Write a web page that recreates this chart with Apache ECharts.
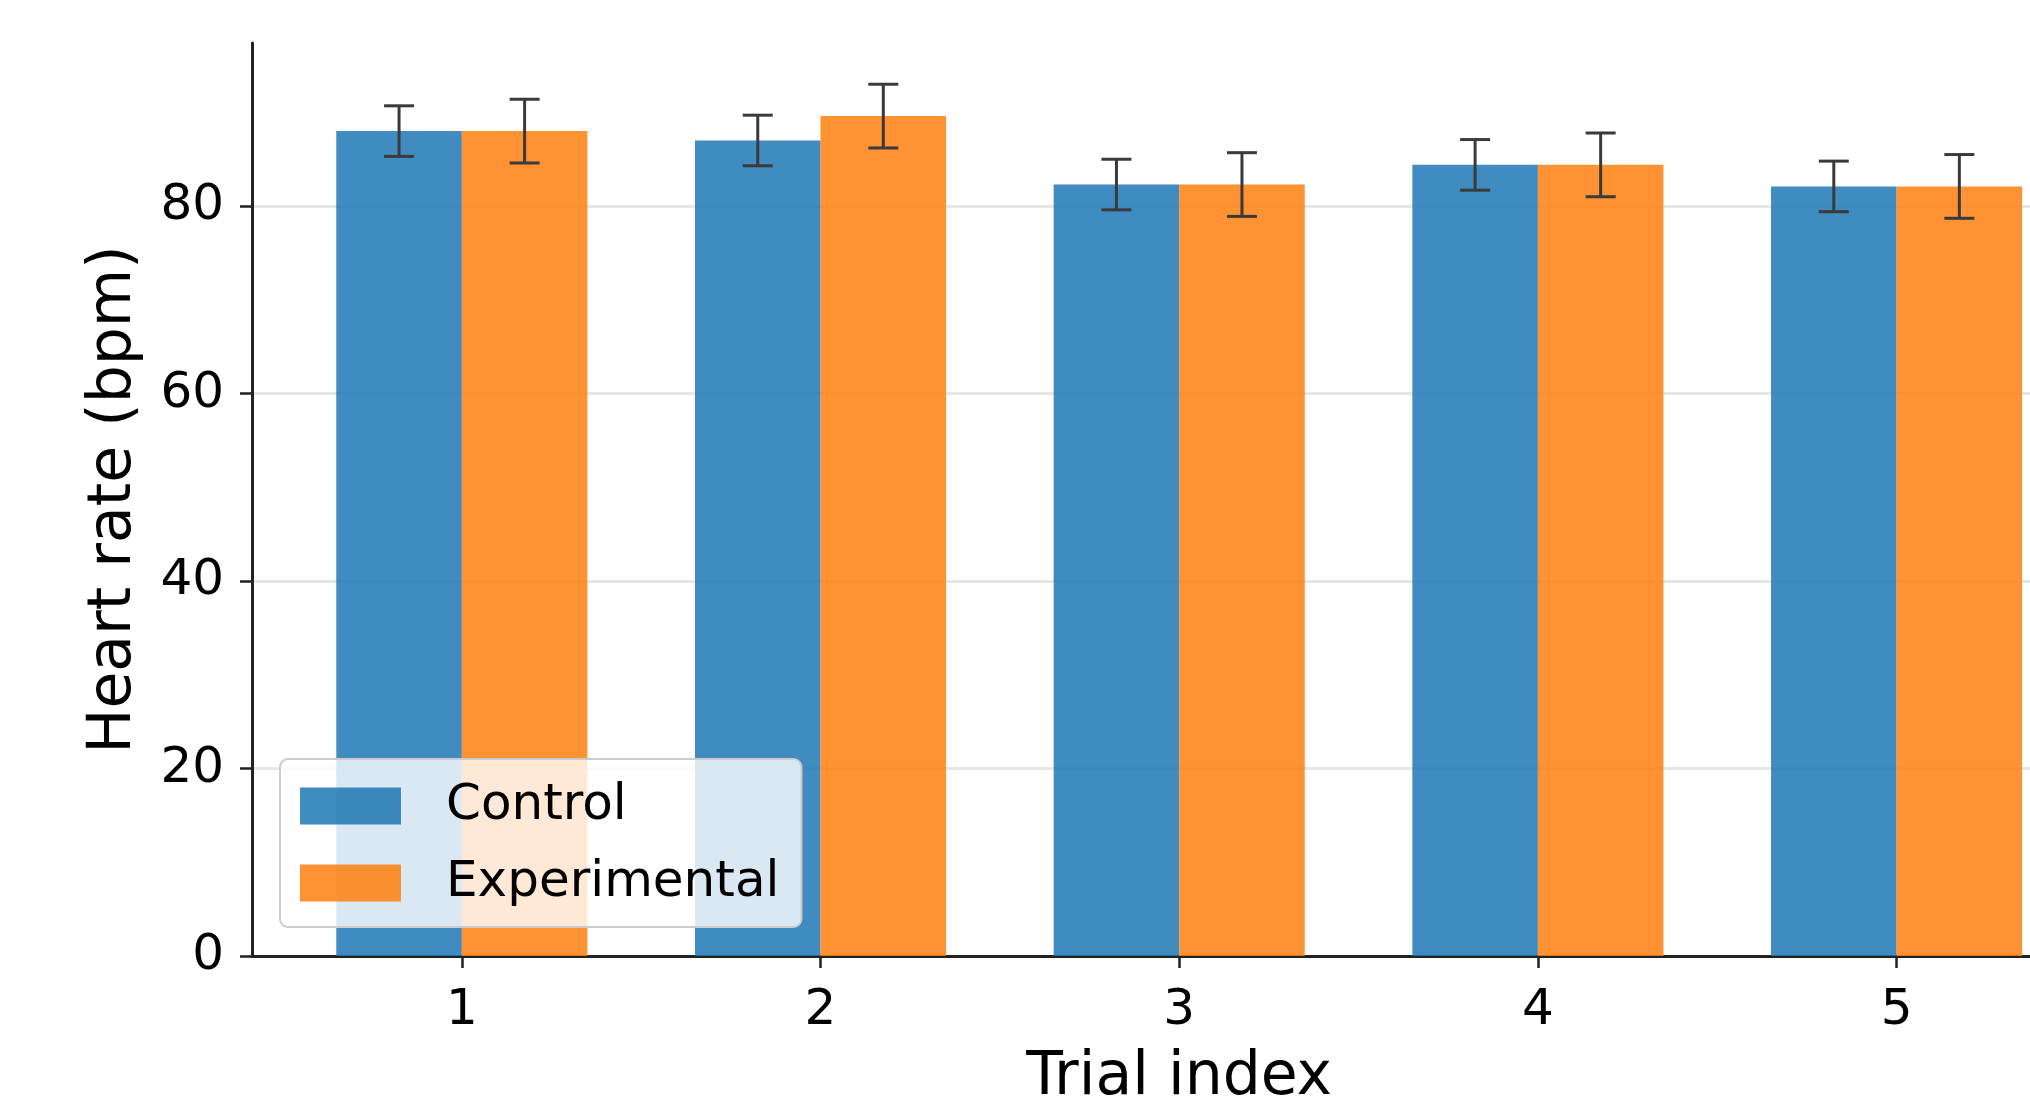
<!DOCTYPE html>
<html>
<head>
<meta charset="utf-8">
<script src="https://cdn.jsdelivr.net/npm/echarts@6/dist/echarts.min.js"></script>
<style>
html,body{margin:0;padding:0;background:#fff;}
#chart{width:2030px;height:1101px;}
</style>
</head>
<body>
<div id="chart"></div>
<script>
const trials = [1, 2, 3, 4, 5];
const control = [88.0, 87.0, 82.3, 84.4, 82.1];
const experimental = [88.0, 89.6, 82.3, 84.4, 82.1];
const controlErr = [2.7, 2.7, 2.7, 2.7, 2.7];
const experimentalErr = [3.4, 3.4, 3.4, 3.4, 3.4];
const yTicks = [0, 20, 40, 60, 80];

const BAR_W = 0.35;
const FONT = '"DejaVu Sans", sans-serif';

function makeRender(side) {
  return function (params, api) {
    const x = api.value(0), y = api.value(1), e = api.value(2);
    const w = api.size([BAR_W, 0])[0];
    const base = api.coord([x, 0]);
    const top = api.coord([x, y]);
    const left = side < 0 ? base[0] - w : base[0];
    const cx = left + w / 2;
    const eTop = api.coord([x, y + e])[1];
    const eBot = api.coord([x, y - e])[1];
    const cap = 15;
    const es = { stroke: '#3a3a3a', lineWidth: 3 };
    return {
      type: 'group',
      children: [
        { type: 'rect', shape: { x: left, y: top[1], width: w, height: base[1] - top[1] },
          style: { fill: api.visual('color') } },
        { type: 'line', shape: { x1: cx, y1: eTop, x2: cx, y2: eBot }, style: es },
        { type: 'line', shape: { x1: cx - cap, y1: eTop, x2: cx + cap, y2: eTop }, style: es },
        { type: 'line', shape: { x1: cx - cap, y1: eBot, x2: cx + cap, y2: eBot }, style: es }
      ]
    };
  };
}

const chart = echarts.init(document.getElementById('chart'), null, { renderer: 'canvas' });
chart.setOption({
  animation: false,
  backgroundColor: '#ffffff',
  textStyle: { fontFamily: FONT },
  grid: { left: 252, top: 43, right: 0, bottom: 145, containLabel: false },
  legend: {
    orient: 'vertical',
    left: 280,
    top: 759,
    padding: [22, 22, 19, 20],
    itemGap: 27,
    itemWidth: 101,
    itemHeight: 37,
    backgroundColor: 'rgba(255,255,255,0.8)',
    borderColor: '#cccccc',
    borderWidth: 2,
    borderRadius: 8,
    icon: 'rect',
    textStyle: { fontFamily: FONT, fontSize: 50, color: '#000', padding: [0, 0, 0, 40] },
    data: ['Control', 'Experimental']
  },
  xAxis: {
    type: 'value',
    min: 0.415,
    max: 5.372,
    axisLine: { show: true, onZero: false, lineStyle: { color: '#222', width: 3 } },
    axisTick: { show: true, length: 12, inside: false, customValues: trials, lineStyle: { color: '#222', width: 2.5 } },
    axisLabel: { customValues: trials, margin: 30, fontFamily: FONT, fontSize: 50, color: '#000' },
    splitLine: { show: false }
  },
  yAxis: {
    type: 'value',
    min: 0,
    max: 97.4,
    interval: 20,
    name: 'Heart rate (bpm)',
    nameLocation: 'middle',
    nameGap: 108,
    nameTextStyle: { fontFamily: FONT, fontSize: 60, color: '#000' },
    axisLine: { show: true, lineStyle: { color: '#222', width: 3 } },
    axisTick: { show: true, length: 12, customValues: yTicks, lineStyle: { color: '#222', width: 2.5 } },
    axisLabel: { customValues: yTicks, margin: 28, fontFamily: FONT, fontSize: 50, color: '#000' },
    splitLine: { show: true, lineStyle: { color: '#e6e6e6', width: 3 } }
  },
  series: [
    {
      name: 'Control',
      type: 'custom',
      itemStyle: { color: 'rgba(31,119,180,0.85)' },
      renderItem: makeRender(-1),
      encode: { x: 0, y: 1 },
      data: trials.map((t, i) => [t, control[i], controlErr[i]])
    },
    {
      name: 'Experimental',
      type: 'custom',
      itemStyle: { color: 'rgba(255,127,14,0.85)' },
      renderItem: makeRender(1),
      encode: { x: 0, y: 1 },
      data: trials.map((t, i) => [t, experimental[i], experimentalErr[i]])
    }
  ]
});
// x-axis title centred on the midpoint of the full (uncropped) axis range
const mid = (0.415 + 5.585) / 2;
const px = chart.convertToPixel({ xAxisIndex: 0 }, mid);
chart.setOption({
  graphic: [{
    type: 'text',
    x: px, y: 1048,
    style: { text: 'Trial index', font: '60px "DejaVu Sans", sans-serif', fill: '#000', align: 'center', verticalAlign: 'top' }
  }]
});
</script>
</body>
</html>
